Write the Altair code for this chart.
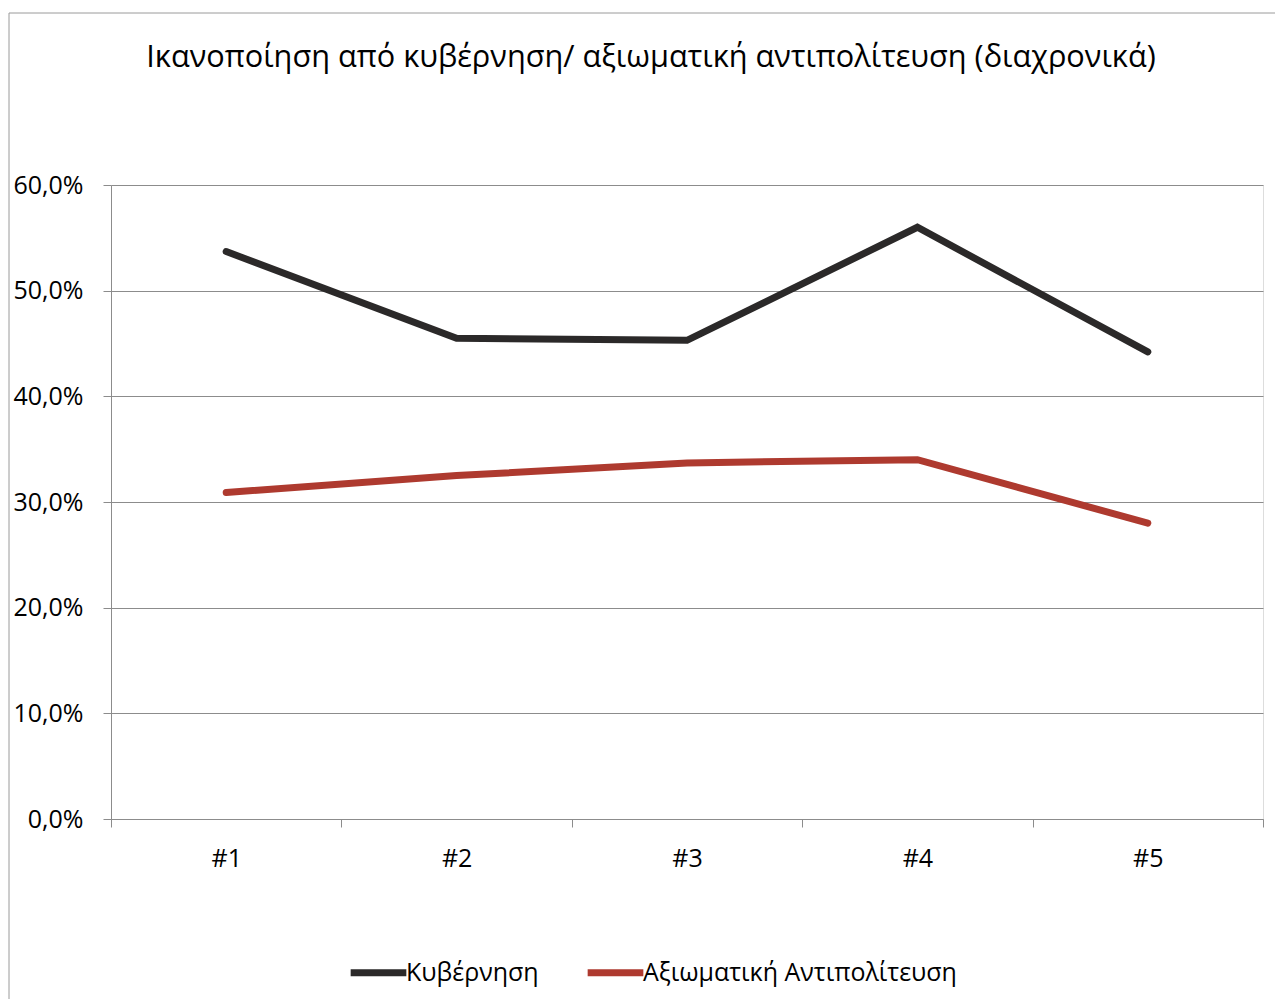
import altair as alt
import pandas as pd

categories = ["#1", "#2", "#3", "#4", "#5"]
series_names = ["Κυβέρνηση", "Αξιωματική Αντιπολίτευση"]
kyvernisi = [53.7, 45.5, 45.3, 56.0, 44.2]
antipoliteusi = [30.9, 32.5, 33.7, 34.0, 28.0]
y_ticks = [0, 10, 20, 30, 40, 50, 60]
colors = ["#2b2929", "#ae3a2f"]
title_text = "Ικανοποίηση από κυβέρνηση/ αξιωματική αντιπολίτευση (διαχρονικά)"

rows = []
for c, v in zip(categories, kyvernisi):
    rows.append({"cat": c, "series": series_names[0], "value": v})
for c, v in zip(categories, antipoliteusi):
    rows.append({"cat": c, "series": series_names[1], "value": v})
df = pd.DataFrame(rows)

FONT = "Open Sans"
GRID = "#8c8c8c"

frame = alt.Chart(alt.Data(values=[{}])).mark_rect(
    fill="transparent", stroke="#9a9a9a", strokeWidth=1
).encode(
    x=alt.value(-102), x2=alt.value(1200),
    y=alt.value(-172), y2=alt.value(1000),
)

lines = alt.Chart(df).mark_line(strokeWidth=7, strokeCap="round", strokeJoin="miter").encode(
    x=alt.X("cat:N", sort=categories, title=None,
            scale=alt.Scale(type="band", paddingInner=0, paddingOuter=0),
            axis=alt.Axis(labelAngle=0, tickBand="extent", grid=False,
                          domainColor=GRID, tickColor=GRID, tickSize=8,
                          labelFontSize=25, labelColor="#000", labelFont=FONT,
                          labelPadding=19)),
    y=alt.Y("value:Q", title=None,
            scale=alt.Scale(domain=[0, 60], nice=False, zero=True),
            axis=alt.Axis(values=y_ticks,
                          labelExpr="replace(format(datum.value, '.1f'), '.', ',') + '%'",
                          domainColor=GRID, tickColor=GRID, tickSize=8, gridColor=GRID,
                          labelFontSize=25, labelColor="#000", labelFont=FONT,
                          labelPadding=20)),
    color=alt.Color("series:N", title=None,
                    scale=alt.Scale(domain=series_names, range=colors),
                    legend=alt.Legend(orient="none", direction="horizontal",
                                      legendX=236, legendY=756,
                                      symbolType="stroke", symbolSize=3100,
                                      symbolStrokeWidth=7, labelOffset=alt.ExprRef("-4"),
                                      columnPadding=34, padding=0, labelLimit=0,
                                      labelFontSize=25, labelFont=FONT,
                                      labelColor="#000")),
    order=alt.Order("series:N"),
)

chart = alt.layer(frame, lines).properties(
    width=1152, height=634,
    title=alt.TitleParams(title_text, fontSize=30.7, font=FONT, fontWeight="normal",
                          color="#000", anchor="middle", dx=-36, offset=0,
                          baseline="middle", dy=76, frame="group"),
    autosize=alt.AutoSizeParams(type="none"),
    padding={"left": 103, "top": 177, "right": 12, "bottom": 180},
).configure_view(stroke=None, clip=False).configure(background="white")

chart.save("out.html", embed_options={"renderer": "svg", "actions": False})
